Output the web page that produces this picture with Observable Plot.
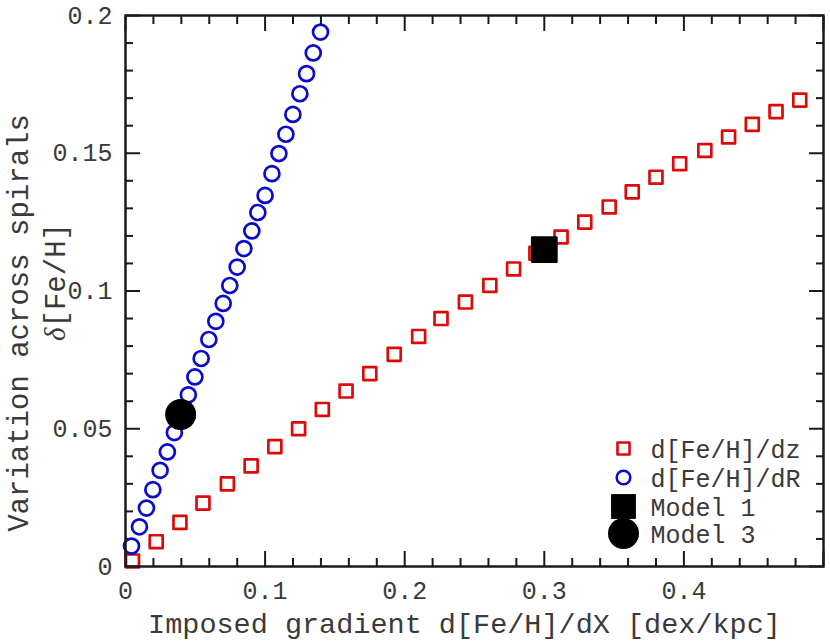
<!DOCTYPE html>
<html>
<head>
<meta charset="utf-8">
<script src="https://cdn.jsdelivr.net/npm/d3@7"></script>
<script src="https://cdn.jsdelivr.net/npm/@observablehq/plot@0.6"></script>
<style>
  html, body { margin: 0; padding: 0; background: #fff; }
  #chart svg { display: block; }
</style>
</head>
<body>
<div id="chart"></div>
<script>
// d[Fe/H]/dz series (red squares)
const dzX = [0.005, 0.022, 0.039, 0.0555, 0.073, 0.090, 0.107, 0.124, 0.141, 0.158,
             0.175, 0.1925, 0.210, 0.226, 0.2435, 0.261, 0.278, 0.294, 0.312, 0.329,
             0.3465, 0.363, 0.380, 0.397, 0.415, 0.432, 0.449, 0.466, 0.483];
const dzY = [0.002, 0.009, 0.016, 0.023, 0.030, 0.0365, 0.0435, 0.050, 0.057, 0.0637,
             0.070, 0.077, 0.0835, 0.090, 0.096, 0.102, 0.108, 0.1137, 0.1196, 0.125,
             0.1305, 0.136, 0.1413, 0.1462, 0.151, 0.1559, 0.1605, 0.1651, 0.1693];
// d[Fe/H]/dR series (blue circles)
const dRX = [0.0043, 0.010, 0.015, 0.0196, 0.0248, 0.030, 0.035, 0.0394, 0.045, 0.0497,
             0.0542, 0.0597, 0.0647, 0.070, 0.0747, 0.080, 0.0848, 0.0905, 0.0948, 0.1000,
             0.1049, 0.1099, 0.1149, 0.1199, 0.1249, 0.1297, 0.1345, 0.1397];
const dRY = [0.0074, 0.0144, 0.0212, 0.0279, 0.0349, 0.0416, 0.0486, 0.0556, 0.0623, 0.0688,
             0.0755, 0.0824, 0.089, 0.0955, 0.102, 0.1087, 0.1154, 0.1218, 0.1285, 0.1347,
             0.1426, 0.1499, 0.1569, 0.1641, 0.1716, 0.1789, 0.1864, 0.194];
// Models
const model1 = {x: 0.300, y: 0.115};
const model3 = {x: 0.0395, y: 0.0552};

const xMajor = [0, 0.1, 0.2, 0.3, 0.4, 0.5];
const xMajorLabels = ["0", "0.1", "0.2", "0.3", "0.4", ""];
const xMinor = [0.02, 0.04, 0.06, 0.08, 0.12, 0.14, 0.16, 0.18, 0.22, 0.24, 0.26, 0.28,
                0.32, 0.34, 0.36, 0.38, 0.42, 0.44, 0.46, 0.48];
const yMajor = [0, 0.05, 0.1, 0.15, 0.2];
const yMajorLabels = ["0", "0.05", "0.1", "0.15", "0.2"];
const yMinor = [0.01, 0.02, 0.03, 0.04, 0.06, 0.07, 0.08, 0.09, 0.11, 0.12, 0.13, 0.14,
                0.16, 0.17, 0.18, 0.19];

const legendLabels = ["d[Fe/H]/dz", "d[Fe/H]/dR", "Model 1", "Model 3"];

const RED = "#dd0a0a", BLUE = "#0a0acc", INK = "#1a1a1a", TXT = "#3a3a3a";
const FONT = "Liberation Mono, Courier New, monospace";

const dz = dzX.map((x, i) => ({x, y: dzY[i]}));
const dR = dRX.map((x, i) => ({x, y: dRY[i]}));

const legendStyle = [
  {symbol: "square", r: 6.8, fill: "none", stroke: RED, strokeWidth: 2.6},
  {symbol: "circle", r: 6.8, fill: "none", stroke: BLUE, strokeWidth: 2.6},
  {symbol: "square", r: 14, fill: "black", stroke: "none", strokeWidth: 0},
  {symbol: "circle", r: 15.5, fill: "black", stroke: "none", strokeWidth: 0}
];
const legendDy = [-118, -89, -60, -33];

const legendMarks = legendLabels.flatMap((label, i) => [
  Plot.dot([label], {frameAnchor: "bottom-right", dx: -200, dy: legendDy[i],
    symbol: legendStyle[i].symbol, r: legendStyle[i].r, fill: legendStyle[i].fill,
    stroke: legendStyle[i].stroke, strokeWidth: legendStyle[i].strokeWidth, strokeLinejoin: "round"}),
  Plot.text([label], {frameAnchor: "bottom-right", dx: -173, dy: legendDy[i] + 1,
    text: d => d, textAnchor: "start", lineAnchor: "middle", fontSize: 25, fill: TXT, fontFamily: FONT})
]);

const chart = Plot.plot({
  width: 830,
  height: 641,
  marginLeft: 125,
  marginRight: 7,
  marginTop: 15,
  marginBottom: 75,
  style: {fontFamily: FONT, background: "white"},
  x: {domain: [0, 0.5]},
  y: {domain: [0, 0.2]},
  marks: [
    // tick labels
    Plot.axisX(xMajor, {anchor: "bottom", tickSize: 0, tickPadding: 15, fontSize: 25, fill: TXT,
      tickFormat: (d, i) => xMajorLabels[i], label: null}),
    Plot.axisY(yMajor, {anchor: "left", tickSize: 0, tickPadding: 13, fontSize: 25, fill: TXT,
      tickFormat: (d, i) => yMajorLabels[i], label: null}),
    // inward ticks on all four sides
    Plot.axisX(xMajor, {anchor: "bottom", tickSize: -15, stroke: INK, strokeWidth: 2, tickFormat: () => "", label: null}),
    Plot.axisX(xMinor, {anchor: "bottom", tickSize: -8, stroke: INK, strokeWidth: 2, tickFormat: () => "", label: null}),
    Plot.axisX(xMajor, {anchor: "top", tickSize: -15, stroke: INK, strokeWidth: 2, tickFormat: () => "", label: null}),
    Plot.axisX(xMinor, {anchor: "top", tickSize: -8, stroke: INK, strokeWidth: 2, tickFormat: () => "", label: null}),
    Plot.axisY(yMajor, {anchor: "left", tickSize: -15, stroke: INK, strokeWidth: 2, tickFormat: () => "", label: null}),
    Plot.axisY(yMinor, {anchor: "left", tickSize: -8, stroke: INK, strokeWidth: 2, tickFormat: () => "", label: null}),
    Plot.axisY(yMajor, {anchor: "right", tickSize: -15, stroke: INK, strokeWidth: 2, tickFormat: () => "", label: null}),
    Plot.axisY(yMinor, {anchor: "right", tickSize: -8, stroke: INK, strokeWidth: 2, tickFormat: () => "", label: null}),
    // data
    Plot.dot(dz, {x: "x", y: "y", symbol: "square", r: 7.3, fill: "none", stroke: RED, strokeWidth: 2.7, strokeLinejoin: "round"}),
    Plot.dot(dR, {x: "x", y: "y", symbol: "circle", r: 7.5, fill: "none", stroke: BLUE, strokeWidth: 2.7}),
    Plot.dot([model1], {x: "x", y: "y", symbol: "square", r: 14.5, fill: "black", stroke: "black", strokeWidth: 1, strokeLinejoin: "round"}),
    Plot.dot([model3], {x: "x", y: "y", symbol: "circle", r: 15.5, fill: "black"}),
    // legend
    ...legendMarks,
    // axis titles
    Plot.text(["Imposed gradient d[Fe/H]/dX [dex/kpc]"], {frameAnchor: "bottom", dx: -10, dy: 57,
      text: d => d, fontSize: 28.5, fill: TXT, textAnchor: "middle", lineAnchor: "middle", fontFamily: FONT}),
    Plot.text(["Variation across spirals"], {frameAnchor: "left", dx: -107, dy: 32, rotate: -90,
      text: d => d, fontSize: 29, fill: TXT, textAnchor: "middle", lineAnchor: "middle", fontFamily: FONT}),
    Plot.text(["δ[Fe/H]"], {frameAnchor: "left", dx: -70, dy: -9, rotate: -90,
      text: d => d, fontSize: 29, fill: TXT, textAnchor: "middle", lineAnchor: "middle", fontFamily: FONT}),
    // frame
    Plot.frame({stroke: INK, strokeWidth: 2.5})
  ]
});

document.getElementById("chart").appendChild(chart);

// italicize the delta in the y label
d3.select(chart).selectAll("text").each(function() {
  const t = d3.select(this);
  if (t.text() === "δ[Fe/H]") {
    t.text("");
    t.append("tspan").attr("font-family", "Liberation Serif, DejaVu Serif, serif").attr("font-style", "italic").text("δ");
    t.append("tspan").text("[Fe/H]");
  }
});
</script>
</body>
</html>
